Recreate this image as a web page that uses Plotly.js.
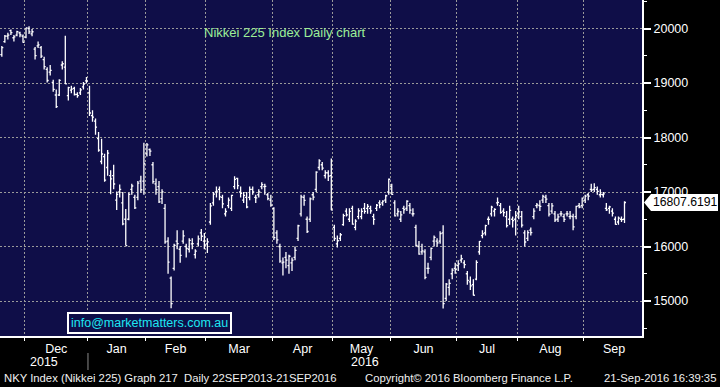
<!DOCTYPE html>
<html>
<head>
<meta charset="utf-8">
<script src="https://cdn.plot.ly/plotly-3.0.1.min.js"></script>
<style>html,body{margin:0;padding:0;background:#000;}#chart{width:720px;height:387px;}</style>
</head>
<body>
<div id="chart"></div>
<script>
const dates = [
'2015-11-18','2015-11-19','2015-11-20','2015-11-24','2015-11-25','2015-11-26','2015-11-27','2015-11-30',
'2015-12-01','2015-12-02','2015-12-03','2015-12-04','2015-12-07','2015-12-08','2015-12-09','2015-12-10','2015-12-11','2015-12-14','2015-12-15','2015-12-16','2015-12-17','2015-12-18','2015-12-21','2015-12-22','2015-12-24','2015-12-25','2015-12-28','2015-12-29','2015-12-30',
'2016-01-04','2016-01-05','2016-01-06','2016-01-07','2016-01-08','2016-01-12','2016-01-13','2016-01-14','2016-01-15','2016-01-18','2016-01-19','2016-01-20','2016-01-21','2016-01-22','2016-01-25','2016-01-26','2016-01-27','2016-01-28','2016-01-29',
'2016-02-01','2016-02-02','2016-02-03','2016-02-04','2016-02-05','2016-02-08','2016-02-09','2016-02-10','2016-02-12','2016-02-15','2016-02-16','2016-02-17','2016-02-18','2016-02-19','2016-02-22','2016-02-23','2016-02-24','2016-02-25','2016-02-26','2016-02-29',
'2016-03-01','2016-03-02','2016-03-03','2016-03-04','2016-03-07','2016-03-08','2016-03-09','2016-03-10','2016-03-11','2016-03-14','2016-03-15','2016-03-16','2016-03-17','2016-03-18','2016-03-22','2016-03-23','2016-03-24','2016-03-25','2016-03-28','2016-03-29','2016-03-30','2016-03-31',
'2016-04-01','2016-04-04','2016-04-05','2016-04-06','2016-04-07','2016-04-08','2016-04-11','2016-04-12','2016-04-13','2016-04-14','2016-04-15','2016-04-18','2016-04-19','2016-04-20','2016-04-21','2016-04-22','2016-04-25','2016-04-26','2016-04-27','2016-04-28',
'2016-05-02','2016-05-06','2016-05-09','2016-05-10','2016-05-11','2016-05-12','2016-05-13','2016-05-16','2016-05-17','2016-05-18','2016-05-19','2016-05-20','2016-05-23','2016-05-24','2016-05-25','2016-05-26','2016-05-27','2016-05-30','2016-05-31',
'2016-06-01','2016-06-02','2016-06-03','2016-06-06','2016-06-07','2016-06-08','2016-06-09','2016-06-10','2016-06-13','2016-06-14','2016-06-15','2016-06-16','2016-06-17','2016-06-20','2016-06-21','2016-06-22','2016-06-23','2016-06-24','2016-06-27','2016-06-28','2016-06-29','2016-06-30',
'2016-07-01','2016-07-04','2016-07-05','2016-07-06','2016-07-07','2016-07-08','2016-07-11','2016-07-12','2016-07-13','2016-07-14','2016-07-15','2016-07-19','2016-07-20','2016-07-21','2016-07-22','2016-07-25','2016-07-26','2016-07-27','2016-07-28','2016-07-29',
'2016-08-01','2016-08-02','2016-08-03','2016-08-04','2016-08-05','2016-08-08','2016-08-09','2016-08-10','2016-08-12','2016-08-15','2016-08-16','2016-08-17','2016-08-18','2016-08-19','2016-08-22','2016-08-23','2016-08-24','2016-08-25','2016-08-26','2016-08-29','2016-08-30','2016-08-31',
'2016-09-01','2016-09-02','2016-09-05','2016-09-06','2016-09-07','2016-09-08','2016-09-09','2016-09-12','2016-09-13','2016-09-14','2016-09-15','2016-09-16','2016-09-20','2016-09-21'
];
const openV = [
19520,19760,19860,19960,19830,19880,19920,19860,
19840,20000,19900,19620,19680,19650,19430,19250,19200,19010,18780,18780,19330,19290,18770,18870,18900,18790,18820,18930,19040,
18818,18400,18300,17980,17560,17650,17450,17300,17300,16850,17000,16800,16500,16500,17050,16900,16900,17200,17200,
17700,17780,17500,17150,17100,16880,16700,16100,15420,15600,16100,15950,16100,16000,15950,16050,15850,16050,16250,16100,
16050,16450,16800,17000,17050,16900,16600,16750,16700,17100,17250,17000,16850,16900,16900,17050,16900,16950,17100,17100,16950,16850,
16700,16250,16000,15700,15800,15650,15700,15800,16150,16600,16900,16500,16500,16950,17050,17450,17500,17300,17350,17300,
16350,16050,16150,16400,16650,16500,16700,16350,16550,16550,16700,16700,16700,16550,16700,16800,16800,16850,17000,
17100,16800,16600,16500,16700,16700,16750,16600,16350,16000,15900,15900,15600,15800,16100,16100,16100,16250,15050,15250,15500,15600,
15650,15750,15700,15500,15350,15300,15400,15900,16200,16250,16500,16600,16650,16800,16750,16650,16550,16500,16500,16500,
16600,16550,16250,16150,16300,16550,16750,16750,16850,16900,16750,16650,16600,16500,16600,16550,16600,16550,16550,16550,16750,16750,
16850,16950,17050,17050,17050,16950,16950,16700,16700,16650,16500,16450,16500,16500
];
const highV = [
19680,19880,19920,19980,19880,19960,19940,19890,
20012,20040,19990,19660,19760,19680,19480,19290,19330,19060,18880,19070,19400,19869,18930,18950,18930,18830,18910,19020,19110,
18951,18500,18350,18100,17975,17700,17770,17400,17500,17010,17140,17000,16690,16990,17150,16950,17200,17300,17905,
17900,17800,17550,17250,17200,17050,16780,16170,15450,16050,16300,16010,16300,16050,16150,16150,15950,16200,16320,16250,
16150,16800,17000,17100,17100,16950,16700,16900,16950,17290,17260,17100,17000,17000,17100,17100,16950,17050,17180,17150,16980,16950,
16720,16300,16050,15800,15900,15850,15800,16000,16400,16950,16950,16550,16900,17000,17380,17600,17550,17400,17400,17613,
16400,16200,16250,16600,16700,16700,16750,16500,16700,16700,16800,16780,16750,16600,16780,16850,16850,16950,17250,
17150,16850,16700,16650,16750,16850,16800,16700,16400,16100,16050,15950,15700,15980,16200,16150,16280,16390,15330,15400,15600,15700,
15750,15850,15750,15550,15450,15400,15750,16100,16300,16400,16550,16750,16700,16900,16800,16700,16650,16750,16550,16650,
16750,16650,16300,16300,16350,16700,16800,16850,16950,16950,16800,16800,16650,16600,16650,16600,16650,16650,16600,16750,16800,16900,
16950,16980,17150,17160,17100,17050,17000,16800,16750,16700,16550,16550,16550,16830
];
const lowV = [
19480,19740,19800,19880,19760,19860,19840,19740,
19820,19900,19860,19430,19640,19460,19250,19010,19140,18840,18540,18760,19250,18980,18680,18810,18770,18730,18780,18880,18990,
18394,18290,18050,17740,17510,17190,17300,16960,17050,16670,16900,16390,16017,16480,16950,16690,16850,16990,16950,
17650,17660,17150,16950,16800,16780,16050,15500,14865,15560,15950,15700,16050,15800,15890,15950,15780,16000,16100,15950,
15880,16400,16750,16900,16850,16700,16550,16700,16650,17050,17050,16900,16800,16700,16850,16950,16800,16900,17050,16950,16850,16730,
16120,16050,15700,15470,15600,15500,15550,15750,16100,16550,16750,16250,16450,16850,17000,17400,17400,17250,17200,16666,
16100,15980,16100,16380,16550,16450,16400,16300,16500,16500,16600,16600,16600,16400,16650,16700,16750,16800,16950,
16950,16550,16550,16450,16600,16650,16600,16550,16000,15850,15850,15400,15500,15750,16000,16000,16050,14864,15000,15100,15400,15500,
15550,15700,15600,15300,15200,15100,15380,15850,16150,16200,16400,16550,16550,16750,16600,16550,16350,16400,16350,16200,
16500,16350,16000,16100,16200,16500,16700,16650,16800,16800,16550,16600,16450,16450,16550,16450,16550,16500,16300,16500,16700,16700,
16800,16850,17000,17000,16950,16900,16900,16650,16600,16550,16400,16400,16450,16430
];
const closeV = [
19649,19859,19879,19924,19847,19944,19883,19747,
20012,19938,19940,19504,19698,19492,19301,19046,19230,18883,18565,19049,19353,18986,18916,18886,18789,18769,18873,18982,19033,
18450,18374,18191,17767,17697,17219,17715,17240,17147,16955,17048,16416,16017,16958,17110,16708,17163,17041,17518,
17865,17750,17191,17044,16819,17004,16085,15713,14952,16022,16054,15836,16196,15967,16111,16052,15916,16140,16188,16027,
16085,16747,16960,17015,16911,16784,16642,16852,16939,17233,17117,16974,16937,16725,17049,17000,16892,17003,17134,17103,16878,16759,
16164,16123,15733,15715,15750,15821,15751,15928,16381,16911,16848,16275,16874,16906,17363,17572,17440,17353,17290,16666,
16147,16106,16216,16565,16579,16646,16412,16467,16652,16644,16646,16736,16654,16498,16757,16772,16834,16931,17234,
16955,16562,16642,16580,16675,16830,16668,16601,16019,15859,15919,15434,15599,15965,16169,16065,16238,14952,15309,15323,15566,15575,
15682,15775,15669,15378,15276,15106,15708,16095,16231,16385,16497,16723,16681,16810,16627,16620,16383,16664,16476,16569,
16635,16391,16083,16254,16254,16650,16764,16735,16919,16869,16596,16745,16486,16545,16598,16497,16597,16556,16360,16737,16725,16887,
16926,16925,17037,17081,17012,16958,16965,16672,16729,16614,16405,16519,16492,16807.6191
];
const yTicks = [15000,16000,17000,18000,19000,20000];
const yMinor = [14500,15500,16500,17500,18500,19500,20500];
const monthNames = ['Jan','Feb','Mar','Apr','May','Jun','Jul','Aug','Sep','Oct','Nov','Dec'];
const chartTitle = 'Nikkei 225 Index Daily chart';
const emailText = 'info@marketmatters.com.au';
const footerLeft = 'NKY Index (Nikkei 225) Graph 217\u00a0 Daily 22SEP2013-21SEP2016';
const footerMid = 'Copyright\u00a9 2016 Bloomberg Finance L.P.';
const footerRight = '21-Sep-2016 16:39:35';
const lastPrice = '16807.6191';

const xIdx = dates.map((d, i) => i);
const xRange = [-0.605, 211.79];
const yRange = [14358, 20523];

// month boundaries (between the last trading day of a month and the first of the next)
const bounds = [], boundMonth = [];
for (let i = 1; i < dates.length; i++) {
  if (dates[i].slice(5,7) !== dates[i-1].slice(5,7)) { bounds.push(i - 0.5); boundMonth.push(+dates[i].slice(5,7) - 1); }
}
const mCenters = [], mText = [];
for (let k = 0; k < bounds.length; k++) {
  const end = (k + 1 < bounds.length) ? bounds[k+1] : xRange[1] + 0.8;
  mCenters.push((bounds[k] + end) / 2);
  mText.push(monthNames[boundMonth[k]]);
}
let yearBound = null;
for (let k = 0; k < bounds.length; k++) if (boundMonth[k] === 0) yearBound = bounds[k];

const font = 'Liberation Sans, Arial, sans-serif';
const navy = '#0f0e48';
const gridCol = '#9a9a9a';
const plotW = 642, plotH = 336;
const py = p => 1 - p / plotH;
const px = p => p / plotW;

const trace = {
  type: 'ohlc', x: xIdx, open: openV, high: highV, low: lowV, close: closeV,
  increasing: {line: {color: '#ffffff', width: 1.3}},
  decreasing: {line: {color: '#ffffff', width: 1.3}},
  tickwidth: 0.5, hoverinfo: 'skip'
};
// invisible helper trace so the gridline axis (x2) is drawn
const gridTrace = {type: 'scatter', x: [xRange[0]], y: [yRange[0]], xaxis: 'x2', yaxis: 'y',
  mode: 'markers', marker: {opacity: 0}, hoverinfo: 'skip', showlegend: false};

const lastY = (parseFloat(lastPrice) - yRange[0]) / (yRange[1] - yRange[0]);

const layout = {
  width: 720, height: 387,
  margin: {l: 0, r: 78, t: 0, b: 51, pad: 0},
  paper_bgcolor: '#000000', plot_bgcolor: navy,
  showlegend: false,
  font: {family: font, color: '#ffffff', size: 12.5},
  xaxis: {
    type: 'linear', range: xRange, rangeslider: {visible: false},
    tickmode: 'array', tickvals: mCenters, ticktext: mText, ticks: '',
    showgrid: false, zeroline: false, showline: true, linecolor: '#ffffff', linewidth: 2,
    tickfont: {family: font, size: 12.5, color: '#ffffff'},
    fixedrange: true
  },
  xaxis2: {
    type: 'linear', range: xRange, overlaying: 'x', side: 'bottom', anchor: 'y',
    tickmode: 'array', tickvals: bounds, ticktext: bounds.map(() => ''),
    ticks: 'outside', ticklen: 4, tickwidth: 1, tickcolor: '#ffffff',
    showgrid: true, gridcolor: gridCol, gridwidth: 1, griddash: '2px,2px',
    showline: false, zeroline: false, showticklabels: true, fixedrange: true
  },
  yaxis: {
    side: 'right', range: yRange, tickmode: 'array', tickvals: yTicks, ticktext: yTicks.map(String),
    ticks: 'outside', ticklen: 7, tickwidth: 2, tickcolor: '#ffffff',
    showgrid: true, gridcolor: gridCol, gridwidth: 1, griddash: '2px,2px',
    zeroline: false, showline: true, linecolor: '#ffffff', linewidth: 2,
    tickfont: {family: font, size: 12.5, color: '#ffffff'},
    minor: {tickmode: 'array', tickvals: yMinor, ticks: 'outside', ticklen: 3, tickwidth: 1, tickcolor: '#ffffff', showgrid: false},
    fixedrange: true
  },
  shapes: [
    {type: 'line', xref: 'x', yref: 'paper', x0: yearBound, x1: yearBound, y0: py(353), y1: py(370),
     line: {color: '#8a8a8a', width: 1}},
    {type: 'path', xref: 'paper', yref: 'paper', xsizemode: 'pixel', ysizemode: 'pixel', xanchor: 1, yanchor: lastY,
     path: 'M 2,0 L 9,8.5 L 76,8.5 L 76,-8.5 L 9,-8.5 Z', fillcolor: '#ffffff', line: {width: 0}, layer: 'above'}
  ],
  annotations: [
    {text: chartTitle, xref: 'paper', yref: 'paper', x: px(202), y: py(33), xanchor: 'left', yanchor: 'middle',
     showarrow: false, font: {family: font, size: 13, color: '#9cee98'}},
    {text: emailText, xref: 'paper', yref: 'paper', x: px(149.5), y: py(323), xanchor: 'center', yanchor: 'middle',
     showarrow: false, font: {family: font, size: 12.5, color: '#1ee6f2'}, bordercolor: '#ffffff', borderwidth: 2, borderpad: 2,
     bgcolor: navy},
    {text: '2015', xref: 'x', yref: 'paper', x: (xRange[0] + yearBound) / 2, y: py(362), xanchor: 'center', yanchor: 'middle',
     showarrow: false, font: {family: font, size: 12.5, color: '#ffffff'}},
    {text: '2016', xref: 'x', yref: 'paper', x: (yearBound + xRange[1]) / 2, y: py(362), xanchor: 'center', yanchor: 'middle',
     showarrow: false, font: {family: font, size: 12.5, color: '#ffffff'}},
    {text: footerLeft, xref: 'paper', yref: 'paper', x: px(2), y: py(378), xanchor: 'left', yanchor: 'middle',
     showarrow: false, font: {family: font, size: 11.3, color: '#f0f0f0'}},
    {text: footerMid, xref: 'paper', yref: 'paper', x: px(363), y: py(378), xanchor: 'left', yanchor: 'middle',
     showarrow: false, font: {family: font, size: 11.3, color: '#f0f0f0'}},
    {text: footerRight, xref: 'paper', yref: 'paper', x: px(718), y: py(378), xanchor: 'right', yanchor: 'middle',
     showarrow: false, font: {family: font, size: 11.3, color: '#f0f0f0'}},
    {text: lastPrice, xref: 'paper', yref: 'paper', x: px(685), y: lastY, xanchor: 'center', yanchor: 'middle',
     showarrow: false, font: {family: font, size: 12.2, color: '#000000'}}
  ]
};

Plotly.newPlot('chart', [gridTrace, trace], layout, {staticPlot: true, displayModeBar: false});
</script>
</body>
</html>
